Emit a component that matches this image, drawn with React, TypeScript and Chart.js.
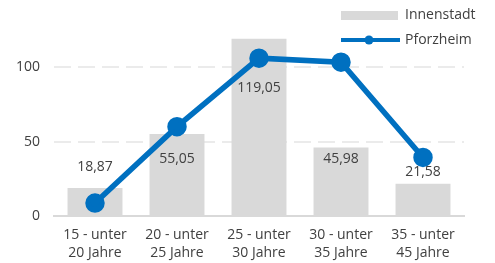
import React, { useEffect, useRef } from "react";
import { Chart, registerables } from "chart.js";

Chart.register(...registerables);

const categories: string[][] = [
  ["15 - unter", "20 Jahre"],
  ["20 - unter", "25 Jahre"],
  ["25 - unter", "30 Jahre"],
  ["30 - unter", "35 Jahre"],
  ["35 - unter", "45 Jahre"],
];
const innenstadt = [18.87, 55.05, 119.05, 45.98, 21.58];
const pforzheim = [8.7, 60.0, 106.0, 103.3, 39.3];
const yTicks = [0, 50, 100];
// label offset (px) from bar top, negative = above
const labelOffsets = [-21, 25, 49, 11, -12];

const FONT = "'Open Sans', Lato, sans-serif";
const TEXT = "#404040";
const BAR = "#d9d9d9";
const LINE = "#0070c0";
const FS = 14;

const fmt = (v: number) => v.toFixed(2).replace(".", ",");

const labelPlugin = {
  id: "barLabels",
  afterDatasetsDraw(chart: any) {
    const ctx = chart.ctx;
    const meta = chart.getDatasetMeta(0);
    ctx.save();
    ctx.font = `${FS}px ${FONT}`;
    ctx.fillStyle = TEXT;
    ctx.textAlign = "center";
    ctx.textBaseline = "middle";
    meta.data.forEach((el: any, i: number) => {
      ctx.fillText(fmt(innenstadt[i]), el.x, el.y + labelOffsets[i]);
    });
    ctx.restore();
  },
};

const legendPlugin = {
  id: "customLegend",
  afterDraw(chart: any) {
    const ctx = chart.ctx;
    ctx.save();
    ctx.fillStyle = BAR;
    ctx.fillRect(341, 11, 57, 9);
    ctx.strokeStyle = LINE;
    ctx.lineWidth = 4;
    ctx.beginPath();
    ctx.moveTo(341, 40);
    ctx.lineTo(400, 40);
    ctx.stroke();
    ctx.fillStyle = LINE;
    ctx.beginPath();
    ctx.arc(369, 40, 4.5, 0, Math.PI * 2);
    ctx.fill();
    ctx.font = `${FS}px ${FONT}`;
    ctx.fillStyle = TEXT;
    ctx.textAlign = "left";
    ctx.textBaseline = "middle";
    ctx.fillText(chart.data.datasets[0].label, 405, 15);
    ctx.fillText(chart.data.datasets[1].label, 405, 40);
    ctx.restore();
  },
};

export default function App() {
  const ref = useRef<HTMLCanvasElement>(null);
  useEffect(() => {
    document.body.style.margin = "0";
    const chart = new Chart(ref.current!, {
      type: "bar",
      data: {
        labels: categories,
        datasets: [
          {
            type: "bar",
            label: "Innenstadt",
            data: innenstadt,
            backgroundColor: BAR,
            categoryPercentage: 1,
            barPercentage: 0.67,
            order: 1,
          },
          {
            type: "line",
            label: "Pforzheim",
            data: pforzheim,
            borderColor: LINE,
            backgroundColor: LINE,
            borderWidth: 5.5,
            pointRadius: 7,
            pointHoverRadius: 7,
            tension: 0,
            order: 0,
          } as any,
        ],
      },
      options: {
        animation: false,
        responsive: false,
        layout: { padding: { top: 6, right: 31, left: 0, bottom: 0 } },
        plugins: { legend: { display: false }, tooltip: { enabled: false } },
        scales: {
          x: {
            grid: { display: false, drawTicks: false },
            border: { color: BAR, width: 2 },
            ticks: {
              color: TEXT,
              font: { family: FONT, size: FS, lineHeight: 1.3 },
              padding: 10,
              maxRotation: 0,
              autoSkip: false,
            },
            afterFit: (s: any) => {
              s.height = 47;
            },
          },
          y: {
            min: 0,
            max: 130,
            afterBuildTicks: (s: any) => {
              s.ticks = yTicks.map((v) => ({ value: v }));
            },
            grid: {
              color: (c: any) => (c.tick && c.tick.value === 0 ? "rgba(0,0,0,0)" : "#ebebeb"),
              lineWidth: 2,
              drawTicks: false,
            },
            border: { display: false, dash: [17, 7] },
            ticks: {
              color: TEXT,
              font: { family: FONT, size: FS },
              padding: 14,
            },
            afterFit: (s: any) => {
              s.width = 54;
            },
          },
        },
      },
      plugins: [labelPlugin, legendPlugin],
    });
    return () => chart.destroy();
  }, []);
  return (
    <div style={{ position: "absolute", left: 0, top: 0, width: 495, height: 263 }}>
      <canvas ref={ref} width={495} height={263} />
    </div>
  );
}
